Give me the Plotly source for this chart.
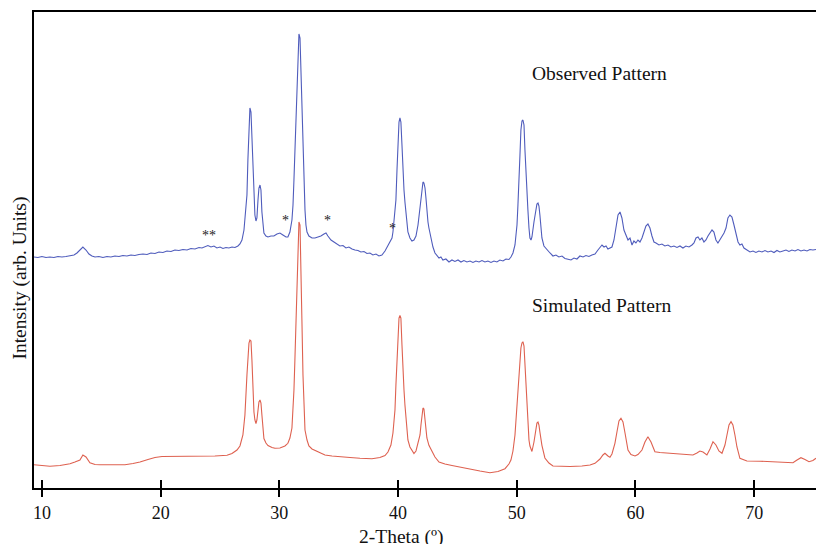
import plotly.graph_objects as go

# ---- Observed pattern (2-theta in degrees, intensity in arb. units) ----
obs_two_theta = [
    9.33, 9.66, 10.00, 10.34, 10.67, 11.01, 11.35, 11.68, 12.02, 12.36, 12.70, 12.95, 13.20, 13.45, 13.71, 13.96,
    14.21, 14.47, 14.80, 15.14, 15.48, 15.81, 16.15, 16.49, 16.82, 17.16, 17.50, 17.83, 18.17, 18.51, 18.85, 19.18,
    19.52, 19.86, 20.19, 20.53, 20.87, 21.20, 21.54, 21.88, 22.22, 22.55, 22.89, 23.23, 23.48, 23.73, 23.98, 24.24,
    24.49, 24.74, 25.00, 25.25, 25.50, 25.75, 26.01, 26.26, 26.51, 26.68, 26.85, 27.02, 27.19, 27.27, 27.35, 27.44,
    27.52, 27.61, 27.69, 27.78, 27.86, 27.94, 28.03, 28.11, 28.20, 28.28, 28.37, 28.45, 28.53, 28.62, 28.70, 28.87,
    29.04, 29.29, 29.54, 29.80, 30.05, 30.30, 30.56, 30.72, 30.89, 31.06, 31.15, 31.23, 31.31, 31.40, 31.48, 31.57,
    31.65, 31.74, 31.82, 31.90, 31.99, 32.07, 32.16, 32.24, 32.33, 32.49, 32.75, 33.00, 33.25, 33.50, 33.76, 33.93,
    34.09, 34.35, 34.60, 34.85, 35.10, 35.36, 35.61, 35.86, 36.12, 36.37, 36.62, 36.87, 37.13, 37.38, 37.63, 37.88,
    38.14, 38.39, 38.64, 38.90, 39.15, 39.32, 39.49, 39.57, 39.65, 39.74, 39.82, 39.91, 39.99, 40.08, 40.16, 40.24,
    40.33, 40.41, 40.50, 40.58, 40.67, 40.75, 40.83, 41.00, 41.17, 41.34, 41.51, 41.68, 41.85, 41.93, 42.01, 42.10,
    42.18, 42.27, 42.35, 42.43, 42.52, 42.60, 42.77, 42.94, 43.11, 43.28, 43.45, 43.61, 43.78, 44.03, 44.29, 44.54,
    44.79, 45.05, 45.30, 45.55, 45.80, 46.06, 46.31, 46.56, 46.82, 47.07, 47.32, 47.57, 47.83, 48.08, 48.33, 48.58,
    48.84, 49.09, 49.34, 49.51, 49.68, 49.85, 50.02, 50.10, 50.19, 50.27, 50.35, 50.44, 50.52, 50.61, 50.69, 50.77,
    50.86, 50.94, 51.03, 51.11, 51.20, 51.28, 51.45, 51.62, 51.70, 51.79, 51.87, 51.95, 52.04, 52.12, 52.29, 52.54,
    52.80, 53.05, 53.30, 53.55, 53.81, 54.06, 54.31, 54.57, 54.82, 55.07, 55.32, 55.58, 55.83, 56.08, 56.33, 56.59,
    56.84, 57.01, 57.18, 57.35, 57.52, 57.68, 57.85, 58.02, 58.19, 58.36, 58.53, 58.70, 58.86, 59.03, 59.20, 59.37,
    59.54, 59.71, 59.87, 60.04, 60.21, 60.38, 60.55, 60.72, 60.88, 61.05, 61.22, 61.39, 61.56, 61.73, 61.98, 62.23,
    62.48, 62.74, 62.99, 63.24, 63.50, 63.75, 64.00, 64.25, 64.51, 64.76, 64.93, 65.10, 65.27, 65.43, 65.60, 65.77,
    65.94, 66.11, 66.28, 66.45, 66.61, 66.78, 66.95, 67.12, 67.29, 67.46, 67.63, 67.79, 67.96, 68.13, 68.30, 68.47,
    68.64, 68.80, 68.97, 69.14, 69.39, 69.65, 69.90, 70.15, 70.40, 70.66, 70.91, 71.16, 71.42, 71.67, 71.92, 72.17,
    72.43, 72.68, 72.93, 73.18, 73.44, 73.69, 73.94, 74.20, 74.45, 74.70, 74.95, 75.21,
]
obs_intensity = [
    231, 230.5, 231.5, 230.5, 231, 230.5, 231.5, 231, 231.5, 232, 233, 235, 238, 241, 238, 234,
    232, 231, 231.5, 230.5, 231.5, 231, 232, 231.5, 232.5, 232, 233, 232.5, 233.5, 234, 233.5, 235,
    234.5, 236, 235.5, 237, 236.5, 238, 237.5, 238.5, 238, 239.5, 239, 240.5, 240, 241.5, 242.5, 241,
    242, 240, 241, 239.5, 240.5, 240, 241, 240.5, 242, 244, 248, 258, 278, 293, 328, 363,
    380, 376, 348, 313, 288, 273, 267, 270, 288, 300, 303, 298, 276, 260, 255, 252,
    251, 252, 252, 254, 255, 253, 251, 251, 256, 268, 283, 308, 338, 363, 398, 433,
    454, 450, 418, 373, 330, 298, 278, 263, 256, 252, 250, 250, 251, 252, 254, 255,
    252, 248, 246, 244, 242, 242.5, 240, 241, 239, 238, 237.5, 236, 236.5, 234.5, 235, 233,
    234, 232, 233, 237, 243, 246, 250, 256, 266, 276, 288, 318, 348, 366, 370, 366,
    343, 318, 298, 286, 273, 263, 256, 250, 247, 248, 252, 263, 283, 293, 302, 306,
    305, 300, 290, 276, 266, 260, 250, 241, 235, 232, 230, 231, 228, 229, 226, 228,
    226.5, 228, 226, 227.5, 226, 227, 225.5, 227, 226, 227.5, 226, 227, 225.5, 227, 226, 228,
    227, 229, 228.5, 231, 235, 243, 263, 283, 303, 333, 358, 367, 368, 363, 338, 313,
    298, 278, 260, 250, 248, 251, 266, 280, 284, 285, 282, 273, 260, 250, 242, 238,
    235, 232, 233, 231, 232, 229.5, 229, 228, 230, 229, 232, 231, 232.5, 231.5, 233, 234,
    238, 241, 243, 241, 242, 239, 240, 241, 248, 260, 273, 276, 270, 258, 252, 248,
    250, 243, 247, 245, 248, 246, 250, 256, 262, 264, 260, 252, 246, 245, 243, 244,
    242, 243, 241, 242, 240.5, 242, 240, 242, 241, 243, 245, 250, 251, 248, 250, 246,
    248, 252, 255, 258, 256, 248, 245, 248, 252, 255, 260, 270, 273, 271, 263, 254,
    246, 243, 244, 240, 238, 236, 237, 235.5, 237, 236, 237.5, 236, 237, 235.5, 237.5, 236,
    237, 238, 236.5, 238, 237, 238.5, 237, 238, 237, 238.5, 238, 238.5,
]

# ---- Simulated pattern ----
sim_two_theta = [
    9.33, 10.00, 10.67, 11.52, 12.36, 12.78, 13.20, 13.45, 13.71, 14.04, 14.47, 14.89, 15.73, 16.99, 17.67, 18.26,
    18.93, 19.52, 20.11, 20.78, 22.05, 23.31, 24.57, 25.59, 26.01, 26.43, 26.68, 26.93, 27.10, 27.27, 27.35, 27.44,
    27.52, 27.61, 27.69, 27.78, 27.86, 27.94, 28.03, 28.11, 28.20, 28.28, 28.37, 28.45, 28.53, 28.62, 28.70, 28.87,
    29.04, 29.38, 29.63, 30.05, 30.47, 30.72, 30.89, 31.06, 31.15, 31.23, 31.31, 31.40, 31.48, 31.57, 31.65, 31.74,
    31.82, 31.90, 31.99, 32.07, 32.16, 32.33, 32.49, 32.75, 33.25, 33.84, 34.43, 35.02, 35.95, 36.79, 37.80, 38.47,
    38.90, 39.15, 39.40, 39.57, 39.74, 39.82, 39.91, 39.99, 40.08, 40.16, 40.24, 40.33, 40.41, 40.50, 40.58, 40.67,
    40.83, 41.00, 41.17, 41.34, 41.51, 41.68, 41.85, 41.93, 42.01, 42.10, 42.18, 42.27, 42.35, 42.43, 42.60, 42.86,
    43.11, 43.45, 43.95, 44.54, 45.13, 46.06, 46.90, 47.74, 48.42, 49.01, 49.34, 49.51, 49.68, 49.85, 49.93, 50.02,
    50.10, 50.19, 50.27, 50.35, 50.44, 50.52, 50.61, 50.69, 50.77, 50.86, 50.94, 51.03, 51.11, 51.20, 51.28, 51.45,
    51.62, 51.70, 51.79, 51.87, 51.95, 52.04, 52.12, 52.37, 52.71, 53.05, 53.64, 54.48, 55.49, 56.17, 56.59, 57.01,
    57.26, 57.43, 57.68, 57.85, 58.02, 58.27, 58.44, 58.61, 58.78, 58.95, 59.12, 59.37, 59.62, 59.96, 60.21, 60.55,
    60.80, 61.05, 61.31, 61.64, 62.06, 63.16, 64.17, 64.84, 65.18, 65.43, 65.69, 66.02, 66.28, 66.53, 66.78, 67.03,
    67.29, 67.54, 67.71, 67.88, 68.05, 68.21, 68.38, 68.55, 68.80, 69.39, 70.49, 71.92, 72.59, 73.27, 73.61, 73.94,
    74.28, 74.62, 74.95, 75.21,
]
sim_intensity = [
    23.3, 22.5, 21.7, 22.5, 24.3, 26, 28, 33, 31, 25.3, 23.5, 23.3, 23, 23.3, 24.5, 26,
    28.5, 30.5, 31.5, 31.5, 31.7, 32, 32, 32.7, 34.5, 38, 42, 53, 73, 113, 133, 145,
    148, 147, 128, 93, 76, 68, 64.5, 68, 78, 86, 88, 85, 73, 58, 49.5, 45,
    42.5, 40.5, 39.7, 40, 42, 44.7, 50, 60, 75, 98, 128, 165, 203, 243, 266, 263,
    226, 168, 113, 78, 58, 48, 42, 39, 36, 33, 32, 31.7, 30.5, 29.7, 29.3, 30.5,
    32.5, 36, 43, 55, 78, 103, 133, 158, 170, 172.5, 170, 143, 116, 98, 83, 68,
    48, 41, 37, 34.5, 37, 45, 53, 63, 75, 80, 79, 70, 58, 50, 42.7, 36,
    31, 26, 24, 22.5, 21, 19, 17, 15.3, 16.5, 19.3, 24, 28, 37, 53, 68, 83,
    98, 113, 128, 140, 145, 146.3, 142, 123, 103, 83, 63, 48, 42, 38, 36.5, 46,
    60, 65, 66, 63, 56, 48, 42.7, 30, 25, 22, 21.5, 21.5, 22, 23, 24.7, 29,
    33, 34.7, 32, 30.7, 34, 44.7, 56, 67, 69.7, 66, 55, 38, 33.5, 32, 33.5, 38,
    46, 51.3, 46, 36.3, 35.5, 34.7, 34, 33, 35, 37, 36, 33, 39, 46.3, 43, 37,
    34.7, 43, 53, 63, 66.3, 63, 53, 41, 29.7, 27, 26.8, 26.3, 26, 25.3, 28, 30.3,
    28.5, 26.3, 27.5, 29.7,
]

# ---- Labels ----
x_ticks = [10, 20, 30, 40, 50, 60, 70]
impurity_marks = [("**", 24.05, 253), ("*", 30.5, 268), ("*", 34.05, 268), ("*", 39.5, 260)]
pattern_labels = [("Observed Pattern", 51.1, 415), ("Simulated Pattern", 51.1, 183)]

FONT = "Liberation Serif"
x_range = [9.33, 75.21]

fig = go.Figure()
fig.add_trace(go.Scatter(x=obs_two_theta, y=obs_intensity, mode="lines",
                         line=dict(color="#4f5cbc", width=1.1), showlegend=False))
fig.add_trace(go.Scatter(x=sim_two_theta, y=sim_intensity, mode="lines",
                         line=dict(color="#de6150", width=1.1), xaxis="x2", showlegend=False))

for txt, xv, yv in impurity_marks:
    fig.add_annotation(x=xv, y=yv, text=txt, showarrow=False, xanchor="center", yanchor="middle",
                       font=dict(family=FONT, size=14, color="#222"))
for txt, xv, yv in pattern_labels:
    fig.add_annotation(x=xv, y=yv, text=txt, showarrow=False, xanchor="left", yanchor="middle",
                       font=dict(family=FONT, size=19.5, color="#111"))

fig.add_annotation(xref="paper", yref="paper", x=-0.0173, y=0.441, text="Intensity (arb. Units)",
                   textangle=-90, showarrow=False, xanchor="center", yanchor="middle",
                   font=dict(family=FONT, size=19.5, color="#111"))
fig.add_annotation(xref="paper", yref="paper", x=0.4705, y=-0.103, text="2-Theta (º)",
                   showarrow=False, xanchor="center", yanchor="middle",
                   font=dict(family=FONT, size=19.5, color="#111"))

fig.update_layout(
    width=816, height=544,
    margin=dict(l=34, r=0, t=12, b=56),
    paper_bgcolor="white", plot_bgcolor="white",
    xaxis=dict(range=x_range, tickvals=x_ticks, ticks="outside", ticklen=7, tickwidth=1.5,
               tickcolor="black", showline=True, linecolor="black", linewidth=2, mirror=True,
               showgrid=False, zeroline=False,
               tickfont=dict(family=FONT, size=18, color="#111")),
    xaxis2=dict(range=x_range, overlaying="x", anchor="y", side="bottom", tickvals=x_ticks,
                ticks="inside", ticklen=8, tickwidth=1.5, tickcolor="black", showticklabels=False,
                showline=False, showgrid=False, zeroline=False),
    yaxis=dict(range=[0, 476], showticklabels=False, ticks="", showline=True, linecolor="black",
               linewidth=2, showgrid=False, zeroline=False),
)

# remove the page's default body margin so the 816x544 figure fills the window exactly
fig.write_html("out.html", config={"displayModeBar": False},
               post_script="document.body.style.margin='0';document.body.style.overflow='hidden';")
